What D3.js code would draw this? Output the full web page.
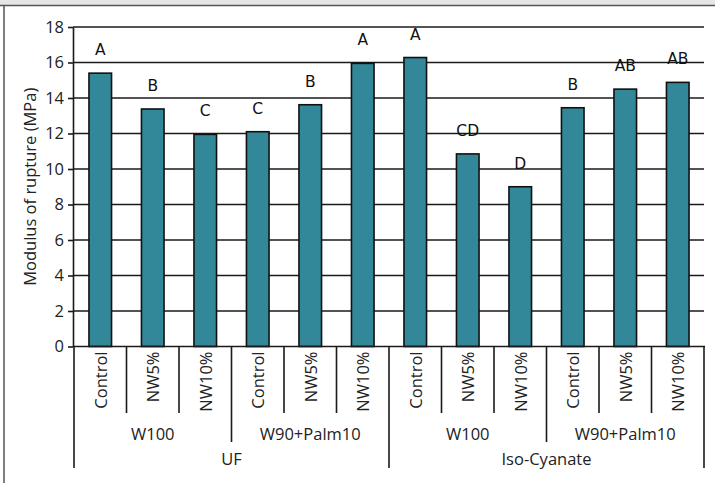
<!DOCTYPE html>
<html>
<head>
<meta charset="utf-8">
<script src="https://cdn.jsdelivr.net/npm/d3@7"></script>
<style>
  html, body { margin: 0; padding: 0; background: #fff; }
  svg { display: block; }
</style>
</head>
<body>
<svg id="chart" width="715" height="483"></svg>
<script>
// ---- data ----
const resins = ["UF", "Iso-Cyanate"];
const woods = ["W100", "W90+Palm10"];
const treatments = ["Control", "NW5%", "NW10%"];
const values = [15.4, 13.38, 11.95, 12.1, 13.62, 15.95, 16.28, 10.85, 9.0, 13.45, 14.5, 14.88];
const letters = ["A", "B", "C", "C", "B", "A", "A", "CD", "D", "B", "AB", "AB"];
const yTicks = [0, 2, 4, 6, 8, 10, 12, 14, 16, 18];
const yTitle = "Modulus of rupture (MPa)";

// build category rows
const rows = [];
resins.forEach(r => woods.forEach(w => treatments.forEach(t => rows.push({resin: r, wood: w, treat: t}))));
rows.forEach((d, i) => { d.id = i; d.value = values[i]; d.letter = letters[i]; });

const svg = d3.select("#chart");
const W = 715, H = 483;
const axisFont = "'Open Sans', 'Noto Sans', sans-serif";
const fs = 16.5;
const letterFont = "'DejaVu Sans', sans-serif";

// frame
svg.append("rect").attr("x", 0).attr("y", 0).attr("width", W).attr("height", 5).attr("fill", "#e6e6e6");
svg.append("line").attr("x1", 0).attr("x2", W).attr("y1", 5.5).attr("y2", 5.5).attr("stroke", "#555").attr("stroke-width", 1.5);
svg.append("line").attr("x1", 4).attr("x2", 4).attr("y1", 5).attr("y2", H).attr("stroke", "#555").attr("stroke-width", 1.5);

const x0 = 74, x1 = 704, yBase = 346.5, yTop = 27;
const x = d3.scaleBand().domain(rows.map(d => d.id)).range([x0, x1]).paddingInner(0.57).paddingOuter(0.285);
const y = d3.scaleLinear().domain([0, 18]).range([yBase, yTop]);
const step = x.step();

// gridlines
svg.append("g").selectAll("line").data(yTicks.filter(v => v > 0)).join("line")
  .attr("x1", 73).attr("x2", x1)
  .attr("y1", d => y(d)).attr("y2", d => y(d))
  .attr("stroke", "#1a1a1a").attr("stroke-width", 1.6);

// y axis
const yAxis = d3.axisLeft(y).tickValues(yTicks).tickSize(5).tickSizeOuter(0).tickPadding(4).tickFormat(d3.format("d"));
const gy = svg.append("g").attr("transform", "translate(73,0)").call(yAxis);
gy.select(".domain").attr("stroke", "#1a1a1a").attr("stroke-width", 1.6);
gy.selectAll(".tick line").attr("stroke", "#1a1a1a").attr("stroke-width", 1.6);
gy.selectAll(".tick text").attr("font-family", axisFont).attr("font-size", fs).attr("fill", "#222");

// y title
svg.append("text")
  .attr("transform", `translate(29,${(yBase + yTop) / 2}) rotate(-90)`)
  .attr("text-anchor", "middle").attr("dominant-baseline", "central")
  .attr("font-family", axisFont).attr("font-size", fs).attr("fill", "#222")
  .text(yTitle);

// bars
svg.append("g").selectAll("rect").data(rows).join("rect")
  .attr("x", d => x(d.id)).attr("width", x.bandwidth())
  .attr("y", d => y(d.value)).attr("height", d => yBase - y(d.value))
  .attr("fill", "#328798").attr("stroke", "#111").attr("stroke-width", 1.6);

// letters
svg.append("g").selectAll("text").data(rows).join("text")
  .attr("x", d => x(d.id) + x.bandwidth() / 2)
  .attr("y", d => y(d.value) - 23)
  .attr("text-anchor", "middle").attr("dominant-baseline", "central")
  .attr("font-family", letterFont).attr("font-size", 15.5).attr("fill", "#111")
  .text(d => d.letter);

// x axis line
svg.append("line").attr("x1", 73).attr("x2", x1 + 1).attr("y1", yBase).attr("y2", yBase)
  .attr("stroke", "#1a1a1a").attr("stroke-width", 1.6);

// separators
const yMinor = 413, yMid = 442, yMajor = 468;
const seps = d3.range(0, rows.length + 1).map(i => {
  let bottom = yMinor;
  if (i % 3 === 0) bottom = yMid;
  if (i % 6 === 0) bottom = yMajor;
  return {xp: x0 + i * step, bottom};
});
svg.append("g").selectAll("line").data(seps).join("line")
  .attr("x1", d => d.xp).attr("x2", d => d.xp)
  .attr("y1", yBase).attr("y2", d => d.bottom)
  .attr("stroke", "#1a1a1a").attr("stroke-width", 1.6);

// category labels
svg.append("g").selectAll("text").data(rows).join("text")
  .attr("transform", d => `translate(${x(d.id) + x.bandwidth() / 2},${yBase + 5}) rotate(-90)`)
  .attr("text-anchor", "end").attr("dominant-baseline", "central")
  .attr("font-family", axisFont).attr("font-size", fs).attr("fill", "#222")
  .text(d => d.treat);

// wood group labels
const woodGroups = [];
resins.forEach((r, ri) => woods.forEach((w, wi) => woodGroups.push({name: w, idx: ri * 2 + wi})));
svg.append("g").selectAll("text").data(woodGroups).join("text")
  .attr("x", d => x0 + (d.idx * 3 + 1.5) * step)
  .attr("y", 433)
  .attr("text-anchor", "middle").attr("dominant-baseline", "central")
  .attr("font-family", axisFont).attr("font-size", fs).attr("fill", "#222")
  .text(d => d.name);

// resin labels
svg.append("g").selectAll("text").data(resins).join("text")
  .attr("x", (d, i) => x0 + (i * 6 + 3) * step)
  .attr("y", 458)
  .attr("text-anchor", "middle").attr("dominant-baseline", "central")
  .attr("font-family", axisFont).attr("font-size", fs).attr("fill", "#222")
  .text(d => d);
</script>
</body>
</html>
